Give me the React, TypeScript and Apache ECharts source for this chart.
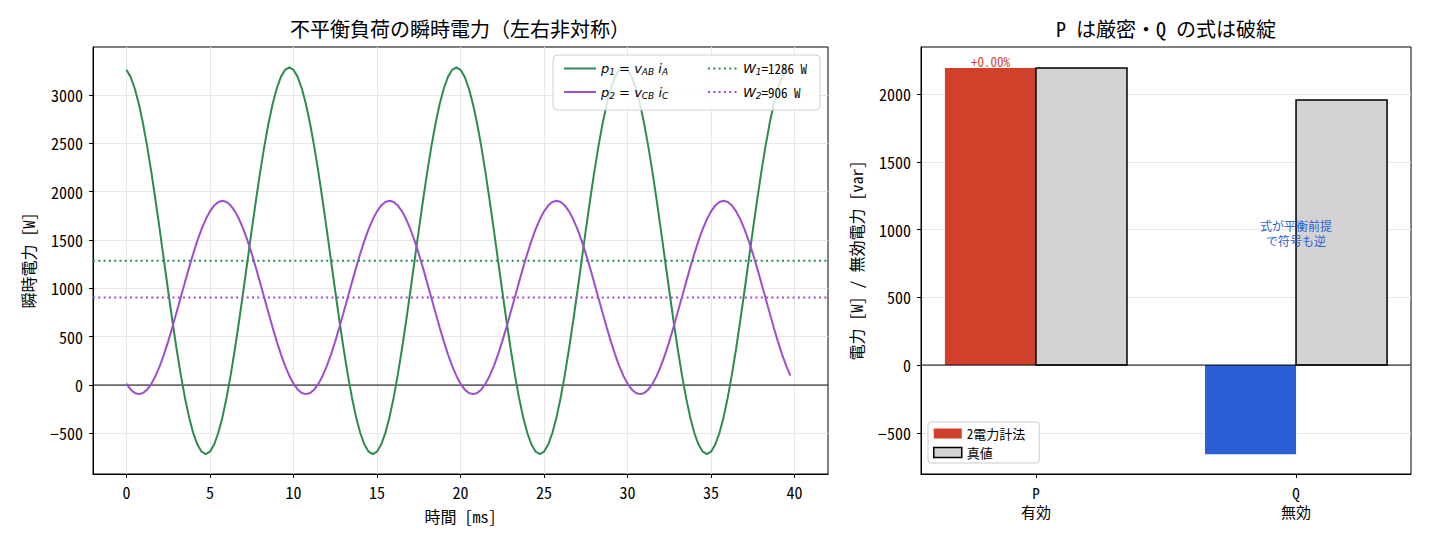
import * as echarts from "echarts";
import { useEffect, useRef } from "react";

const MONO = '"Noto Sans Mono CJK JP", "DejaVu Sans Mono", monospace';
const MATH = '"DejaVu Sans", sans-serif';

// sample step of the waveforms [ms]
const T_STEP = 0.25;

// p1 = vAB iA [W], read every 0.25 ms from 0 to 39.75 ms
const P1 = [
	3261, 3188, 3068, 2904, 2700, 2462, 2194, 1904, 1599, 1286, 973, 668, 378, 110, -128, -332, -496, -616, -689, -714,
	-689, -616, -496, -332, -128, 110, 378, 668, 973, 1286, 1599, 1904, 2194, 2462, 2700, 2904, 3068, 3188, 3261, 3286,
	3261, 3188, 3068, 2904, 2700, 2462, 2194, 1904, 1599, 1286, 973, 668, 378, 110, -128, -332, -496, -616, -689, -714,
	-689, -616, -496, -332, -128, 110, 378, 668, 973, 1286, 1599, 1904, 2194, 2462, 2700, 2904, 3068, 3188, 3261, 3286,
	3261, 3188, 3068, 2904, 2700, 2462, 2194, 1904, 1599, 1286, 973, 668, 378, 110, -128, -332, -496, -616, -689, -714,
	-689, -616, -496, -332, -128, 110, 378, 668, 973, 1286, 1599, 1904, 2194, 2462, 2700, 2904, 3068, 3188, 3261, 3286,
	3261, 3188, 3068, 2904, 2700, 2462, 2194, 1904, 1599, 1286, 973, 668, 378, 110, -128, -332, -496, -616, -689, -714,
	-689, -616, -496, -332, -128, 110, 378, 668, 973, 1286, 1599, 1904, 2194, 2462, 2700, 2904, 3068, 3188, 3261, 3286,
];

// p2 = vCB iC [W]
const P2 = [
	15, -45, -82, -94, -82, -45, 15, 97, 199, 318, 452, 597, 750, 906, 1062, 1215, 1360, 1494, 1613, 1715,
	1797, 1857, 1894, 1906, 1894, 1857, 1797, 1715, 1613, 1494, 1360, 1215, 1062, 906, 750, 597, 452, 318, 199, 97,
	15, -45, -82, -94, -82, -45, 15, 97, 199, 318, 452, 597, 750, 906, 1062, 1215, 1360, 1494, 1613, 1715,
	1797, 1857, 1894, 1906, 1894, 1857, 1797, 1715, 1613, 1494, 1360, 1215, 1062, 906, 750, 597, 452, 318, 199, 97,
	15, -45, -82, -94, -82, -45, 15, 97, 199, 318, 452, 597, 750, 906, 1062, 1215, 1360, 1494, 1613, 1715,
	1797, 1857, 1894, 1906, 1894, 1857, 1797, 1715, 1613, 1494, 1360, 1215, 1062, 906, 750, 597, 452, 318, 199, 97,
	15, -45, -82, -94, -82, -45, 15, 97, 199, 318, 452, 597, 750, 906, 1062, 1215, 1360, 1494, 1613, 1715,
	1797, 1857, 1894, 1906, 1894, 1857, 1797, 1715, 1613, 1494, 1360, 1215, 1062, 906, 750, 597, 452, 318, 199, 97,
];

// wattmeter readings [W]
const W1 = 1286;
const W2 = 906;

// right chart
const CATEGORIES = ["P\n有効", "Q\n無効"];
const MEASURED = [2192, -658];
const TRUE_VALUES = [2192, 1956];
const NOTE = "式が平衡前提\nで符号も逆";

const X1_TICKS = [0, 5, 10, 15, 20, 25, 30, 35, 40];
const Y1_TICKS = [-500, 0, 500, 1000, 1500, 2000, 2500, 3000];
const Y2_TICKS = [-500, 0, 500, 1000, 1500, 2000];

const X1_MIN = -2;
const X1_MAX = 42;
const X2_MIN = -0.442;
const X2_MAX = 1.442;
const BAR_W = 0.35;

const MEASURED_COLORS = ["#d1402a", "#2b5fd6"];
const GREEN = "#2e8b4f";
const PURPLE = "#9b4fd0";

const fmt = (v: number) => (v < 0 ? "\u2212" + Math.abs(v) : String(v));

const nameStyle = { fontFamily: MONO, fontSize: 16, color: "#000" };

const axisCommon = {
	axisLine: { show: true, onZero: false, lineStyle: { color: "#000", width: 1 } },
	axisTick: { show: true, inside: false, length: 4, lineStyle: { color: "#000", width: 1 } },
	axisLabel: { color: "#000", fontFamily: MONO, fontSize: 16, margin: 10 },
	splitLine: { show: true, lineStyle: { color: "#e8e8e8", width: 1 } },
};

const legendNames: Record<string, string> = {
	p1: "{i|p}{s|1}{n| = }{i|v}{s|AB}{n| }{i|i}{s|A}",
	p2: "{i|p}{s|2}{n| = }{i|v}{s|CB}{n| }{i|i}{s|C}",
	W1: `{i|W}{s|1}{m|=${W1} W}`,
	W2: `{i|W}{s|2}{m|=${W2} W}`,
};

const rich = {
	i: { fontFamily: MATH, fontStyle: "italic", fontSize: 13, color: "#000" },
	n: { fontFamily: MATH, fontSize: 13, color: "#000" },
	s: { fontFamily: MATH, fontStyle: "italic", fontSize: 9, color: "#000", padding: [7, 0, 0, 0] },
	m: { fontFamily: MONO, fontSize: 13, color: "#000" },
};

function barSeries(name: string, values: number[], offset: number, colors: string[], stroke: string | null) {
	return {
		name,
		type: "custom",
		xAxisIndex: 1,
		yAxisIndex: 1,
		z: 3,
		data: values.map((v, i) => [i, v]),
		renderItem: (params: any, api: any) => {
			const x = api.value(0);
			const y = api.value(1);
			const a = api.coord([x + offset - BAR_W / 2, y]);
			const b = api.coord([x + offset + BAR_W / 2, 0]);
			return {
				type: "rect",
				shape: { x: a[0], y: Math.min(a[1], b[1]), width: b[0] - a[0], height: Math.abs(b[1] - a[1]) },
				style: { fill: colors[params.dataIndex % colors.length], stroke: stroke ?? "none", lineWidth: stroke ? 1.5 : 0 },
			};
		},
	};
}

export default function App() {
	const ref = useRef<HTMLDivElement>(null);
	useEffect(() => {
		if (!ref.current) return;
		const chart = echarts.init(ref.current, null, { renderer: "svg" });
		const times = P1.map((_, i) => i * T_STEP);
		const errPct = ((MEASURED[0] - TRUE_VALUES[0]) / TRUE_VALUES[0]) * 100;
		const errLabel = (errPct >= 0 ? "+" : "") + errPct.toFixed(2) + "%";

		const lineLegend = {
			orient: "vertical",
			itemHeight: 14,
			itemGap: 9,
			z: 5,
			itemStyle: { opacity: 0 },
			formatter: (n: string) => legendNames[n],
			textStyle: { rich },
		};

		chart.setOption({
			animation: false,
			backgroundColor: "#fff",
			grid: [
				{ left: 93, top: 47, width: 735, height: 427, show: true, borderColor: "#000", borderWidth: 1, backgroundColor: "transparent" },
				{ left: 921, top: 47, width: 490, height: 427, show: true, borderColor: "#000", borderWidth: 1, backgroundColor: "transparent" },
			],
			xAxis: [
				{
					...axisCommon,
					type: "value",
					gridIndex: 0,
					min: X1_MIN,
					max: X1_MAX,
					name: "時間 [ms]",
					nameLocation: "middle",
					nameGap: 34,
					nameTextStyle: nameStyle,
					axisTick: { ...axisCommon.axisTick, customValues: X1_TICKS },
					axisLabel: { ...axisCommon.axisLabel, customValues: X1_TICKS, formatter: (v: number) => fmt(v) },
				},
				{
					...axisCommon,
					type: "value",
					gridIndex: 1,
					min: X2_MIN,
					max: X2_MAX,
					splitLine: { show: false },
					axisTick: { ...axisCommon.axisTick, customValues: [0, 1] },
					axisLabel: {
						...axisCommon.axisLabel,
						customValues: [0, 1],
						fontSize: 15,
						lineHeight: 19,
						margin: 9,
						formatter: (v: number) => CATEGORIES[Math.round(v)] ?? "",
					},
				},
			],
			yAxis: [
				{
					...axisCommon,
					type: "value",
					gridIndex: 0,
					min: -920,
					max: 3497,
					name: "瞬時電力 [W]",
					nameLocation: "middle",
					nameGap: 57,
					nameTextStyle: nameStyle,
					axisTick: { ...axisCommon.axisTick, customValues: Y1_TICKS },
					axisLabel: { ...axisCommon.axisLabel, customValues: Y1_TICKS, formatter: (v: number) => fmt(v) },
				},
				{
					...axisCommon,
					type: "value",
					gridIndex: 1,
					min: -804,
					max: 2347,
					name: "電力 [W] / 無効電力 [var]",
					nameLocation: "middle",
					nameGap: 57,
					nameTextStyle: nameStyle,
					axisTick: { ...axisCommon.axisTick, customValues: Y2_TICKS },
					axisLabel: { ...axisCommon.axisLabel, customValues: Y2_TICKS, formatter: (v: number) => fmt(v) },
				},
			],
			legend: [
				{ ...lineLegend, left: 558, top: 57, itemWidth: 32, data: ["p1", "p2"] },
				{ ...lineLegend, left: 702, top: 57, itemWidth: 30, data: ["W1", "W2"] },
				{
					left: 928,
					top: 422,
					orient: "vertical",
					padding: [5, 14, 4, 5],
					itemWidth: 28,
					itemHeight: 10,
					itemGap: 6,
					backgroundColor: "rgba(255,255,255,0.8)",
					borderColor: "#cccccc",
					borderWidth: 1,
					borderRadius: 3,
					z: 5,
					data: [
						{ name: "2電力計法", icon: "rect", itemStyle: { color: MEASURED_COLORS[0], borderWidth: 0 } },
						{ name: "真値", icon: "rect", itemStyle: { color: "#d3d3d3", borderColor: "#000", borderWidth: 1.5 } },
					],
					textStyle: { fontFamily: MONO, fontSize: 13, color: "#000" },
				},
			],
			graphic: [
				{
					type: "text",
					x: 460,
					y: 28,
					style: { text: "不平衡負荷の瞬時電力（左右非対称）", fontFamily: MONO, fontSize: 20, fill: "#000", align: "center", verticalAlign: "middle" },
				},
				{
					type: "text",
					x: 1166,
					y: 28,
					style: { text: "P は厳密・Q の式は破綻", fontFamily: MONO, fontSize: 20, fill: "#000", align: "center", verticalAlign: "middle" },
				},
				{
					type: "rect",
					z: 4,
					shape: { x: 553, y: 55, width: 267, height: 55, r: 4 },
					style: { fill: "rgba(255,255,255,0.8)", stroke: "#d0d0d0", lineWidth: 1 },
				},
			],
			series: [
				{
					name: "p1",
					type: "line",
					xAxisIndex: 0,
					yAxisIndex: 0,
					symbol: "none",
					data: P1.map((v, i) => [times[i], v]),
					lineStyle: { color: GREEN, width: 2 },
					itemStyle: { color: GREEN },
					z: 3,
				},
				{
					name: "p2",
					type: "line",
					xAxisIndex: 0,
					yAxisIndex: 0,
					symbol: "none",
					data: P2.map((v, i) => [times[i], v]),
					lineStyle: { color: PURPLE, width: 2 },
					itemStyle: { color: PURPLE },
					z: 3,
				},
				{
					name: "W1",
					type: "line",
					xAxisIndex: 0,
					yAxisIndex: 0,
					symbol: "none",
					data: [[X1_MIN, W1], [X1_MAX, W1]],
					lineStyle: { color: GREEN, width: 2, type: [2, 3.3] },
					itemStyle: { color: GREEN },
					z: 3,
				},
				{
					name: "W2",
					type: "line",
					xAxisIndex: 0,
					yAxisIndex: 0,
					symbol: "none",
					data: [[X1_MIN, W2], [X1_MAX, W2]],
					lineStyle: { color: PURPLE, width: 2, type: [2, 3.3] },
					itemStyle: { color: PURPLE },
					z: 3,
				},
				{
					name: "zero1",
					type: "line",
					xAxisIndex: 0,
					yAxisIndex: 0,
					symbol: "none",
					silent: true,
					data: [[X1_MIN, 0], [X1_MAX, 0]],
					lineStyle: { color: "#000", width: 1 },
					z: 2,
				},
				barSeries("2電力計法", MEASURED, -BAR_W / 2, MEASURED_COLORS, null),
				barSeries("真値", TRUE_VALUES, BAR_W / 2, ["#d3d3d3"], "#000"),
				{
					name: "zero2",
					type: "line",
					xAxisIndex: 1,
					yAxisIndex: 1,
					symbol: "none",
					silent: true,
					data: [[X2_MIN, 0], [X2_MAX, 0]],
					lineStyle: { color: "#000", width: 1 },
					z: 4,
				},
				{
					name: "labels",
					type: "custom",
					xAxisIndex: 1,
					yAxisIndex: 1,
					z: 6,
					silent: true,
					data: [[0, MEASURED[0]]],
					renderItem: (_p: any, api: any) => {
						const pt = api.coord([api.value(0) - BAR_W / 2, api.value(1)]);
						return {
							type: "text",
							x: pt[0],
							y: pt[1],
							style: { text: errLabel, fontFamily: MONO, fontSize: 13, fill: MEASURED_COLORS[0], align: "center", verticalAlign: "bottom" },
						};
					},
				},
				{
					name: "note",
					type: "custom",
					xAxisIndex: 1,
					yAxisIndex: 1,
					z: 6,
					silent: true,
					data: [[1, TRUE_VALUES[1] / 2]],
					renderItem: (_p: any, api: any) => {
						const pt = api.coord([api.value(0), api.value(1)]);
						return {
							type: "text",
							x: pt[0],
							y: pt[1],
							style: { text: NOTE, fontFamily: MONO, fontSize: 12, lineHeight: 15, fill: "#2b5fd6", align: "center", verticalAlign: "middle" },
						};
					},
				},
			],
		});
		return () => chart.dispose();
	}, []);
	return <div ref={ref} style={{ position: "fixed", left: 0, top: 0, width: 1430, height: 546 }} />;
}
